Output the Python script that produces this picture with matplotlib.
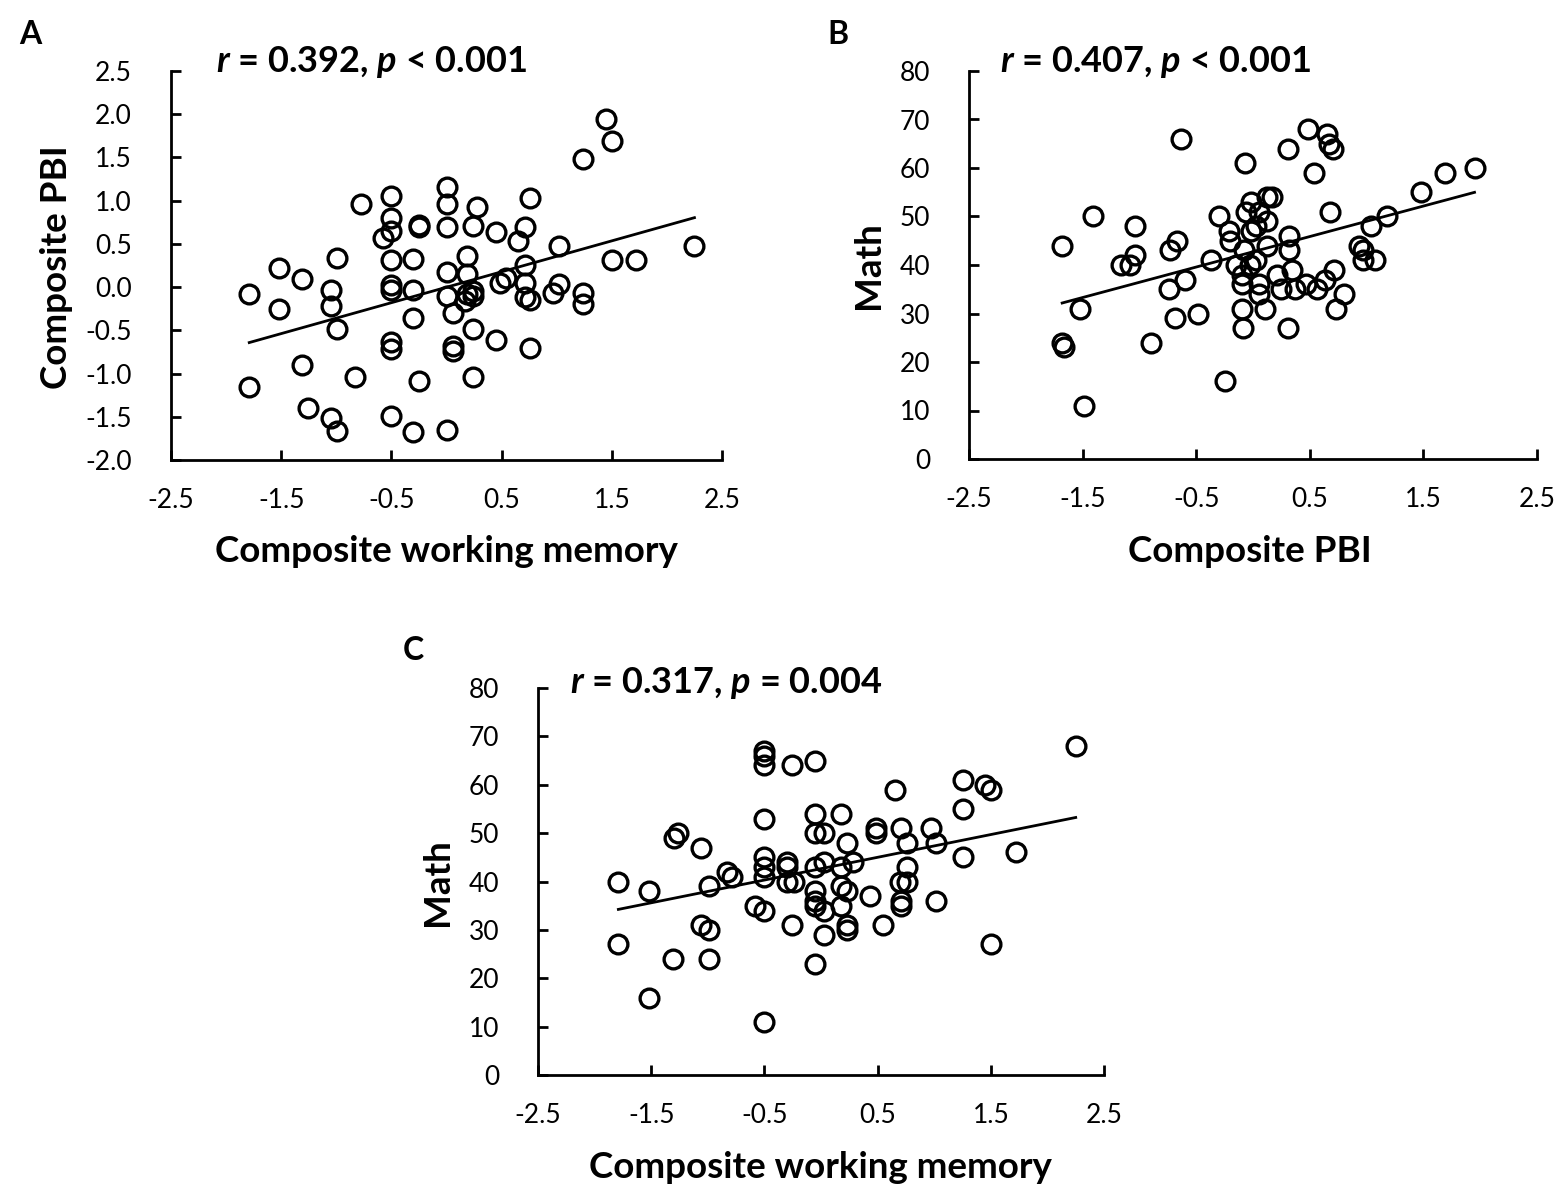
import matplotlib
matplotlib.use('Agg')
import matplotlib.pyplot as plt
import numpy as np

plt.rcParams['font.family'] = ['Lato', 'DejaVu Sans']
plt.rcParams['mathtext.fontset'] = 'custom'
plt.rcParams['mathtext.bfit'] = 'Lato:italic:bold'
plt.rcParams['mathtext.rm'] = 'Lato:bold'

# Panel A: composite working memory vs composite PBI
wm_a = [1.45, 1.50, 1.24, 0.00, -0.50, -0.78, 0.00, 0.28, 0.76, -0.50,
        -0.50, -0.58, -0.25, -0.25, 0.00, 0.24, 0.45, 0.71, 0.65, 1.02,
        2.25, 1.50, 1.72, -0.99, -0.50, -0.30, 0.19, -1.52, -1.31, -1.05,
        -1.79, -1.52, -1.05, -0.50, -0.50, -0.30, 0.00, 0.00, 0.06, 0.19,
        0.19, 0.17, 0.24, 0.24, 0.49, 0.54, 0.71, 0.71, 0.71, 0.76,
        1.02, 0.97, 1.24, 1.24, -0.99, -0.30, -0.50, -0.50, 0.06, 0.06,
        0.24, 0.45, 0.76, -1.31, -1.79, -0.83, -0.25, 0.24, -1.26, -1.05,
        -0.99, -0.50, -0.30, 0.00]
pbi_a = [1.94, 1.69, 1.48, 1.16, 1.05, 0.96, 0.96, 0.93, 1.03, 0.80,
         0.65, 0.57, 0.72, 0.69, 0.69, 0.71, 0.64, 0.69, 0.53, 0.47,
         0.48, 0.31, 0.31, 0.34, 0.31, 0.32, 0.36, 0.22, 0.09, -0.03,
         -0.08, -0.25, -0.22, 0.03, -0.03, -0.03, 0.18, -0.10, -0.30, 0.15,
         -0.08, -0.16, -0.05, -0.10, 0.05, 0.11, 0.26, 0.05, -0.12, -0.15,
         0.04, -0.07, -0.07, -0.20, -0.48, -0.36, -0.63, -0.72, -0.68, -0.74,
         -0.48, -0.61, -0.71, -0.90, -1.16, -1.04, -1.09, -1.04, -1.40, -1.51,
         -1.67, -1.49, -1.68, -1.65]

# Panel B: composite PBI vs math
pbi_b = [0.48, 0.65, 0.67, 0.70, -0.63, 0.31, -0.07, 0.54, 1.95, 1.69,
         1.48, 0.17, 0.12, -0.02, -0.06, 0.05, 0.68, 1.18, 1.04, -1.41,
         -0.30, -1.04, 0.12, 0.03, -0.21, -0.02, 0.32, -0.20, 0.12, 0.32,
         -0.08, 0.93, 0.97, 0.97, 1.07, -1.68, -0.67, -0.73, -1.04, -1.16,
         -1.08, -0.37, -0.15, -0.03, 0.03, 0.71, 0.34, -0.10, 0.21, -0.60,
         -0.10, 0.05, 0.47, 0.63, -0.74, 0.25, 0.37, 0.56, 0.80, 0.05,
         0.73, -1.52, -0.10, 0.11, -0.69, -0.48, -0.09, 0.31, -1.68, -1.66,
         -0.90, -0.25, -1.49]
math_b = [68, 67, 65, 64, 66, 64, 61, 59, 60, 59,
          55, 54, 54, 53, 51, 51, 51, 50, 48, 50,
          50, 48, 49, 48, 47, 47, 46, 45, 44, 43,
          43, 44, 43, 41, 41, 44, 45, 43, 42, 40,
          40, 41, 40, 40, 41, 39, 39, 38, 38, 37,
          36, 36, 36, 37, 35, 35, 35, 35, 34, 34,
          31, 31, 31, 31, 29, 30, 27, 27, 24, 23,
          24, 16, 11]

# Panel C: composite working memory vs math
wm_c = [2.25, -0.50, -0.50, -0.50, -0.26, -0.05, 1.25, 1.45, 1.50, 0.65,
        -0.50, -0.05, 0.18, 1.25, -0.05, 0.03, 0.49, 0.49, 0.71, 0.97,
        -1.30, -1.26, 0.23, 0.76, 1.02, -1.06, 1.72, 1.25, -0.50, -0.30,
        -0.50, -0.05, 0.03, 0.18, 0.28, 0.76, -0.83, -0.79, -0.30, -0.50,
        -0.30, -0.24, -1.79, -0.99, -1.52, 0.18, 0.23, -0.05, 0.70, 0.76,
        0.43, -0.05, -0.05, 0.03, 0.18, 0.71, 0.71, 1.02, -0.58, -0.50,
        -1.06, -0.99, -0.26, 0.23, 0.23, 0.55, 0.03, -1.79, 1.50, -1.31,
        -0.99, -0.05, -1.52, -0.50]
math_c = [68, 67, 66, 64, 64, 65, 61, 60, 59, 59,
          53, 54, 54, 55, 50, 50, 51, 50, 51, 51,
          49, 50, 48, 48, 48, 47, 46, 45, 45, 44,
          43, 43, 44, 43, 44, 43, 42, 41, 43, 41,
          40, 40, 40, 39, 38, 39, 38, 38, 40, 40,
          37, 36, 35, 34, 35, 36, 35, 36, 35, 34,
          31, 30, 31, 31, 30, 31, 29, 27, 27, 24,
          24, 23, 16, 11]

x_ticks = [-2.5, -1.5, -0.5, 0.5, 1.5, 2.5]
pbi_ticks = [-2.0, -1.5, -1.0, -0.5, 0.0, 0.5, 1.0, 1.5, 2.0, 2.5]
math_ticks = [0, 10, 20, 30, 40, 50, 60, 70, 80]

W, H = 1567, 1196
fig = plt.figure(figsize=(W / 100, H / 100), dpi=100)


def px(x, y):
    return x / W, 1 - y / H


def panel(rect, xs, ys, yticks, yfmt):
    l, t, r, b = rect
    ax = fig.add_axes([l / W, 1 - b / H, (r - l) / W, (b - t) / H])
    ax.plot(xs, ys, 'o', mfc='none', mec='black', mew=2.4, ms=13.5, zorder=3)
    k, c = np.polyfit(xs, ys, 1)
    xl = np.array([min(xs), max(xs)])
    ax.plot(xl, k * xl + c, color='black', lw=2.0, zorder=2)
    ax.set_xlim(-2.5, 2.5)
    ax.set_ylim(yticks[0], yticks[-1])
    ax.set_xticks(x_ticks)
    ax.set_xticklabels([f'{v:.1f}' for v in x_ticks])
    ax.set_yticks(yticks)
    ax.set_yticklabels([yfmt(v) for v in yticks])
    for s in ['top', 'right']:
        ax.spines[s].set_visible(False)
    for s in ['left', 'bottom']:
        ax.spines[s].set_linewidth(2.0)
    ax.tick_params(direction='in', length=7, width=2.0, labelsize=19)
    ax.tick_params(axis='x', pad=20)
    ax.tick_params(axis='y', pad=28)
    return ax


panel((171, 71, 722, 460), wm_a, pbi_a, pbi_ticks, lambda v: f'{v:.1f}')
panel((969, 71, 1537, 459), pbi_b, math_b, math_ticks, lambda v: f'{v:d}')
panel((538, 688, 1104, 1075), wm_c, math_c, math_ticks, lambda v: f'{v:d}')

lab = dict(fontsize=26.5, fontweight='bold', ha='center', va='center')
fig.text(*px(446, 552), 'Composite working memory', **lab)
fig.text(*px(57, 267), 'Composite PBI', rotation=90, **lab)
fig.text(*px(1250, 552), 'Composite PBI', **lab)
fig.text(*px(869, 265), 'Math', rotation=90, **lab)
fig.text(*px(820, 1168), 'Composite working memory', **lab)
fig.text(*px(438, 882), 'Math', rotation=90, **lab)

ttl = dict(fontsize=26, fontweight='bold', ha='left', va='center')
fig.text(*px(216, 62), r'$\mathbfit{r}$ = 0.392, $\mathbfit{p}$ < 0.001', **ttl)
fig.text(*px(1000, 62), r'$\mathbfit{r}$ = 0.407, $\mathbfit{p}$ < 0.001', **ttl)
fig.text(*px(570, 683), r'$\mathbfit{r}$ = 0.317, $\mathbfit{p}$ = 0.004', **ttl)

let = dict(fontsize=23, fontweight='bold', ha='center', va='center')
fig.text(*px(30, 35), 'A', **let)
fig.text(*px(838, 35), 'B', **let)
fig.text(*px(413, 651), 'C', **let)

fig.savefig('out.png', dpi=100)
